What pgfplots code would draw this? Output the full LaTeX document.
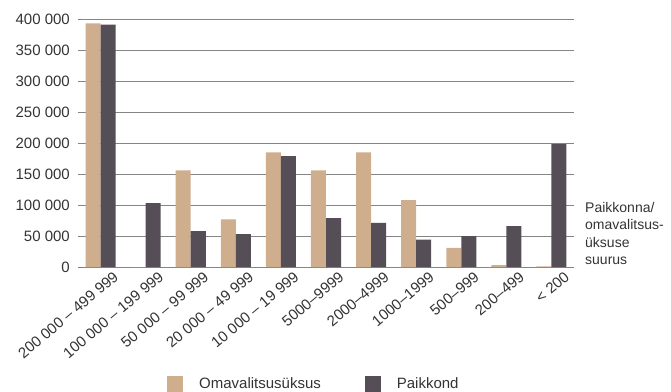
\documentclass[border=0pt]{standalone}
\usepackage{fontspec}
\setmainfont{Liberation Sans}
\usepackage{pgfplots}
\pgfplotsset{compat=1.18}
\definecolor{tanc}{HTML}{CFAE8E}
\definecolor{darkc}{HTML}{554E56}
\definecolor{txt}{HTML}{333333}
\definecolor{gridc}{HTML}{858585}
\pgfplotstableread{
x oma pai
0 393000 391000
1 0 103000
2 156000 58000
3 77000 53000
4 185000 179000
5 156000 79000
6 185000 71000
7 108000 44000
8 31000 50000
9 3000 66000
10 1000 198000
}\datatab
\begin{document}
\begin{tikzpicture}[x=1bp,y=1bp]
\path[use as bounding box] (-78bp,-125bp) rectangle (593bp,267bp);
\begin{axis}[at={(0,0)}, anchor=south west, scale only axis,
  width=496bp, height=248bp,
  xmin=-0.5, xmax=10.5, ymin=0, ymax=400000,
  scaled y ticks=false,
  axis line style={draw=none}, major tick length=0pt,
  ymajorgrids, grid style={gridc, line width=1bp},
  ytick={0,50000,...,400000},
  yticklabels={0,50 000,100 000,150 000,200 000,250 000,300 000,350 000,400 000},
  xtick={0,...,10},
  xticklabels={200 000 – 499 999,100 000 – 199 999,50 000 – 99 999,20 000 – 49 999,10 000 – 19 999,5000–9999,2000–4999,1000–1999,500–999,200–499,< 200},
  tick label style={font=\fontsize{15bp}{17bp}\selectfont, text=txt},
  yticklabel style={anchor=east, inner sep=0pt, xshift=-8bp},
  xticklabel style={rotate=40, anchor=east, inner sep=0pt, xshift=7bp, yshift=-16bp},
  ybar=0pt, bar width=0.333,
  legend style={at={(rel axis cs:0.1794,-0.4698)}, anchor=west, draw=none, fill=none,
    inner sep=0pt, font=\fontsize{15bp}{17bp}\selectfont, text=txt,
    nodes={inner sep=0pt},
    /tikz/every odd column/.style={column sep=16bp},
    /tikz/every even column/.style={column sep=44bp}},
  legend columns=2,
  legend image code/.code={\fill[#1] (0bp,-8bp) rectangle (16bp,8bp);},
  clip=false,
]
\addplot[fill=tanc, draw=none, bar shift=-0.1667] table[x=x,y=oma] {\datatab};
\addlegendentry{Omavalitsusüksus}
\addplot[fill=darkc, draw=none, bar shift=0.1667] table[x=x,y=pai] {\datatab};
\addlegendentry{Paikkond}
\node[anchor=base west, align=left, text=txt, inner sep=0pt, xshift=11bp,
  font=\fontsize{14bp}{17.5bp}\selectfont]
  at (rel axis cs:1,0.01) {Paikkonna/\\omavalitsus-\\üksuse\\suurus};
\end{axis}
\end{tikzpicture}
\end{document}
